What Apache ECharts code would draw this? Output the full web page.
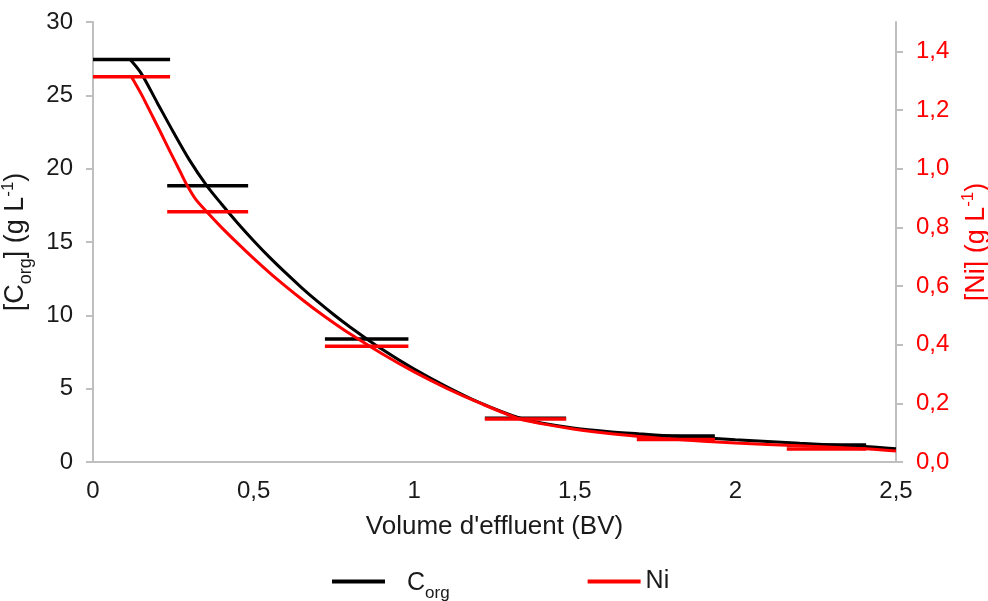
<!DOCTYPE html>
<html>
<head>
<meta charset="utf-8">
<script src="https://cdn.jsdelivr.net/npm/echarts@6/dist/echarts.min.js"></script>
<style>
html,body{margin:0;padding:0;background:#fff;}
#chart{width:988px;height:601px;}
</style>
</head>
<body>
<div id="chart"></div>
<script>
// Fraction (step) averages
const barStartX = [0, 0.231, 0.722, 1.22, 1.693, 2.16];
const barEndX   = [0.24, 0.483, 0.982, 1.473, 1.936, 2.407];
const corgBars  = [27.45, 18.84, 8.39, 2.98, 1.77, 1.16];
const niBars    = [1.313, 0.853, 0.395, 0.147, 0.077, 0.044];

// Continuous profiles
const corgX = [0.115, 0.15, 0.2, 0.25, 0.3, 0.354, 0.4, 0.45, 0.5, 0.55, 0.6, 0.65, 0.7, 0.75, 0.8, 0.9, 1.0, 1.1, 1.2, 1.33, 1.4, 1.5, 1.6, 1.7, 1.8, 1.9, 2.0, 2.2, 2.4, 2.5];
const corgY = [27.46, 26.5, 24.5, 22.5, 20.6, 18.84, 17.59, 16.3, 15.09, 13.95, 12.89, 11.88, 10.93, 10.04, 9.21, 7.68, 6.33, 5.14, 4.08, 2.98, 2.64, 2.3, 2.08, 1.92, 1.78, 1.65, 1.52, 1.28, 1.05, 0.9];
const niX = [0.121, 0.15, 0.18, 0.21, 0.24, 0.27, 0.292, 0.32, 0.354, 0.4, 0.45, 0.5, 0.55, 0.6, 0.65, 0.7, 0.75, 0.8, 0.9, 1.0, 1.1, 1.2, 1.33, 1.4, 1.5, 1.6, 1.7, 1.8, 2.0, 2.2, 2.4, 2.5];
const niY = [1.311, 1.255, 1.19, 1.125, 1.058, 0.993, 0.945, 0.895, 0.853, 0.8, 0.746, 0.694, 0.645, 0.599, 0.555, 0.513, 0.474, 0.437, 0.369, 0.307, 0.252, 0.203, 0.146, 0.13, 0.112, 0.098, 0.087, 0.078, 0.065, 0.055, 0.045, 0.0375];

// Axis ticks
const rightTicks = [0, 0.2, 0.4, 0.6, 0.8, 1.0, 1.2, 1.4];

const FONT = 'Liberation Sans';
const GRAY = '#BFBFBF';
const INK = '#1a1a1a';

function steps(vals) {
  const d = [];
  for (let i = 0; i < vals.length; i++) {
    d.push([barStartX[i], vals[i]]);
    d.push([barEndX[i], vals[i]]);
    d.push([barEndX[i], '-']);
  }
  return d;
}
function pairs(xs, ys) { return xs.map((x, i) => [x, ys[i]]); }
const comma = (v, dec) => (dec == null ? String(v) : v.toFixed(dec)).replace('.', ',');

const chart = echarts.init(document.getElementById('chart'), null, {renderer: 'canvas'});
chart.setOption({
  animation: false,
  backgroundColor: '#fff',
  textStyle: {fontFamily: FONT},
  grid: {left: 93, right: 92, top: 22, bottom: 139, containLabel: false, outerBoundsMode: 'none'},
  legend: {
    left: 332, top: 569, padding: 0, itemWidth: 53, itemHeight: 4, itemGap: 138,
    icon: 'rect',
    data: [
      {name: 'Corg', textStyle: {padding: [0, 0, 0, 17]}},
      {name: 'Ni'}
    ],
    formatter: name => name === 'Corg' ? '{m|C}{s|org}' : name,
    textStyle: {
      fontFamily: FONT, fontSize: 25, color: INK,
      rich: {
        m: {fontFamily: FONT, fontSize: 25, color: INK, lineHeight: 28, verticalAlign: 'bottom'},
        s: {fontFamily: FONT, fontSize: 17, color: INK, lineHeight: 20, verticalAlign: 'bottom', padding: [0, 0, -6, 0]}
      }
    }
  },
  xAxis: {
    type: 'value', min: 0, max: 2.5, interval: 0.5,
    name: "Volume d'effluent (BV)", nameLocation: 'middle', nameGap: 52,
    nameTextStyle: {fontFamily: FONT, fontSize: 26, color: INK},
    axisLine: {show: true, lineStyle: {color: GRAY, width: 2}},
    axisTick: {show: false},
    splitLine: {show: false},
    axisLabel: {fontFamily: FONT, fontSize: 24, color: INK, margin: 17, formatter: v => comma(v)}
  },
  yAxis: [
    {
      type: 'value', min: 0, max: 30, interval: 5, position: 'left',
      name: '{t|[C}{s|org}{t|] (g L}{p|-1}{t|)}', nameLocation: 'middle', nameGap: 48, nameRotate: 90,
      nameTextStyle: {
        rich: {
          t: {fontFamily: FONT, fontSize: 27, color: INK, lineHeight: 32},
          s: {fontFamily: FONT, fontSize: 18, color: INK, lineHeight: 32, verticalAlign: 'bottom', padding: [0, 0, -4, 0]},
          p: {fontFamily: FONT, fontSize: 17, color: INK, lineHeight: 32, verticalAlign: 'top'}
        }
      },
      axisLine: {show: true, lineStyle: {color: GRAY, width: 2}},
      axisTick: {show: true, length: 7, lineStyle: {color: GRAY, width: 2}},
      splitLine: {show: false},
      axisLabel: {fontFamily: FONT, fontSize: 24, color: INK, margin: 20}
    },
    {
      type: 'value', min: 0, max: 1.5, interval: 0.2, position: 'right',
      name: '{t|[Ni] (g L}{p|-1}{t|)}', nameLocation: 'middle', nameGap: 60, nameRotate: 90,
      nameTextStyle: {
        rich: {
          t: {fontFamily: FONT, fontSize: 27, color: '#FF0000', lineHeight: 32},
          p: {fontFamily: FONT, fontSize: 17, color: '#FF0000', lineHeight: 32, verticalAlign: 'top'}
        }
      },
      axisLine: {show: true, lineStyle: {color: GRAY, width: 2}},
      axisTick: {show: true, length: 7, lineStyle: {color: GRAY, width: 2}, customValues: rightTicks},
      splitLine: {show: false},
      axisLabel: {fontFamily: FONT, fontSize: 24, color: '#FF0000', margin: 20, customValues: rightTicks, formatter: v => comma(v, 1)}
    }
  ],
  series: [
    {name: 'Corg', type: 'line', xAxisIndex: 0, yAxisIndex: 0, data: steps(corgBars), symbol: 'none', smooth: false,
     connectNulls: false, color: '#000', lineStyle: {color: '#000', width: 3.5, cap: 'butt'}, z: 2},
    {name: 'Corg', type: 'line', xAxisIndex: 0, yAxisIndex: 0, data: pairs(corgX, corgY), symbol: 'none', smooth: 0.3,
     color: '#000', lineStyle: {color: '#000', width: 3}, z: 3},
    {name: 'Ni', type: 'line', xAxisIndex: 0, yAxisIndex: 1, data: steps(niBars), symbol: 'none', smooth: false,
     connectNulls: false, color: '#FF0000', lineStyle: {color: '#FF0000', width: 3.5, cap: 'butt'}, z: 4},
    {name: 'Ni', type: 'line', xAxisIndex: 0, yAxisIndex: 1, data: pairs(niX, niY), symbol: 'none', smooth: 0.3,
     color: '#FF0000', lineStyle: {color: '#FF0000', width: 3}, z: 5}
  ]
});
</script>
</body>
</html>
